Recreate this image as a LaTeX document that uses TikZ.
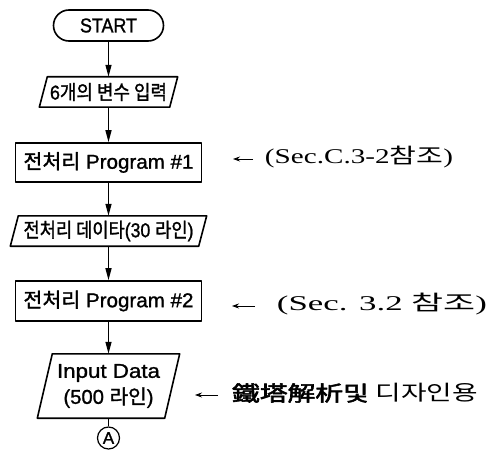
\documentclass[tikz,border=0pt]{standalone}
\usepackage{fontspec}
\usepackage{graphicx}
\setmainfont{Liberation Serif}
\newfontfamily\fsans{Liberation Sans}[FakeBold=1.2]
\newfontfamily\kr{Noto Sans CJK KR}
\newfontfamily\krf{Noto Sans CJK KR}[FakeBold=1.5]
\newfontfamily\krb{Noto Sans CJK KR}[FakeBold=2.5]
\usetikzlibrary{arrows.meta}
\newcommand\fw[2]{\resizebox{#1pt}{\height}{#2}}
\newcommand\parabox[2]{\draw[boxline] ([xshift=#2pt]#1.north west) -- ([xshift=#2pt]#1.north east) -- ([xshift=-#2pt]#1.south east) -- ([xshift=-#2pt]#1.south west) -- cycle;}
\begin{document}
\begin{tikzpicture}[x=1pt,y=-1pt,line join=round,
  boxline/.style={line width=1.6pt},
  txt/.style={inner sep=0pt,font=\fsans\fontsize{20}{26}\selectfont},
  flow/.style={line width=1.4pt,-{Triangle[width=6pt,length=12pt]}},
  note/.style={inner sep=0pt,font=\fontsize{21}{24}\selectfont},
  side/.style={line width=0.8pt,-{Stealth[length=7pt,width=5pt]}}]
\useasboundingbox (0,0) rectangle (493,452);
\node[txt,draw,boxline,rounded corners=15.5pt,minimum width=110pt,minimum height=31pt] (start) at (108.5,25.5) {\fw{57}{START}};
\node[txt,minimum width=130pt,minimum height=30pt] (p1) at (108.5,92) {\fw{117}{6{\krf 개의 변수 입력}}};
\parabox{p1}{4}
\node[txt,draw,boxline,minimum width=186pt,minimum height=39pt] (b1) at (108.5,162.5) {\fw{170}{{\krf 전처리} Program \#1}};
\node[txt,minimum width=188pt,minimum height=30pt] (p2) at (108.5,231) {\fw{170}{{\krf 전처리 데이타}(30 {\krf 라인})}};
\parabox{p2}{4}
\node[txt,draw,boxline,minimum width=186pt,minimum height=40pt] (b2) at (108.5,301) {\fw{170}{{\krf 전처리} Program \#2}};
\node[txt,minimum width=127pt,minimum height=64pt,align=center] (p3) at (108.5,386) {\fw{103}{Input Data}\\\fw{90}{(500 {\krf 라인})}};
\parabox{p3}{7.5}
\node[draw,circle,line width=1.2pt,minimum size=22pt,inner sep=0pt,font=\fsans\fontsize{17}{17}\selectfont] (A) at (108.5,438) {A};
\draw[flow] (start.south) -- (p1.north);
\draw[flow] (p1.south) -- (b1.north);
\draw[flow] (b1.south) -- (p2.north);
\draw[flow] (p2.south) -- (b2.north);
\draw[flow] (b2.south) -- (p3.north);
\draw[line width=1.4pt] (p3.south) -- (A.north);
\node[note] (n1) at (359,157) {\fw{188}{(Sec.C.3-2{\kr 참조})}};
\coordinate (s1) at (253,159);
\coordinate (t1) at (233,159);
\draw[side] (s1) -- (t1);
\node[note] (n2) at (382,304) {\fw{210}{(Sec. 3.2 {\kr 참조})}};
\coordinate (s2) at (255,306);
\coordinate (t2) at (232,306);
\draw[side] (s2) -- (t2);
\node[note] (n3) at (355,393) {\fw{246}{{\krb 鐵塔解析및} {\kr 디자인용}}};
\coordinate (s3) at (218,395);
\coordinate (t3) at (195,395);
\draw[side] (s3) -- (t3);
\end{tikzpicture}
\end{document}
